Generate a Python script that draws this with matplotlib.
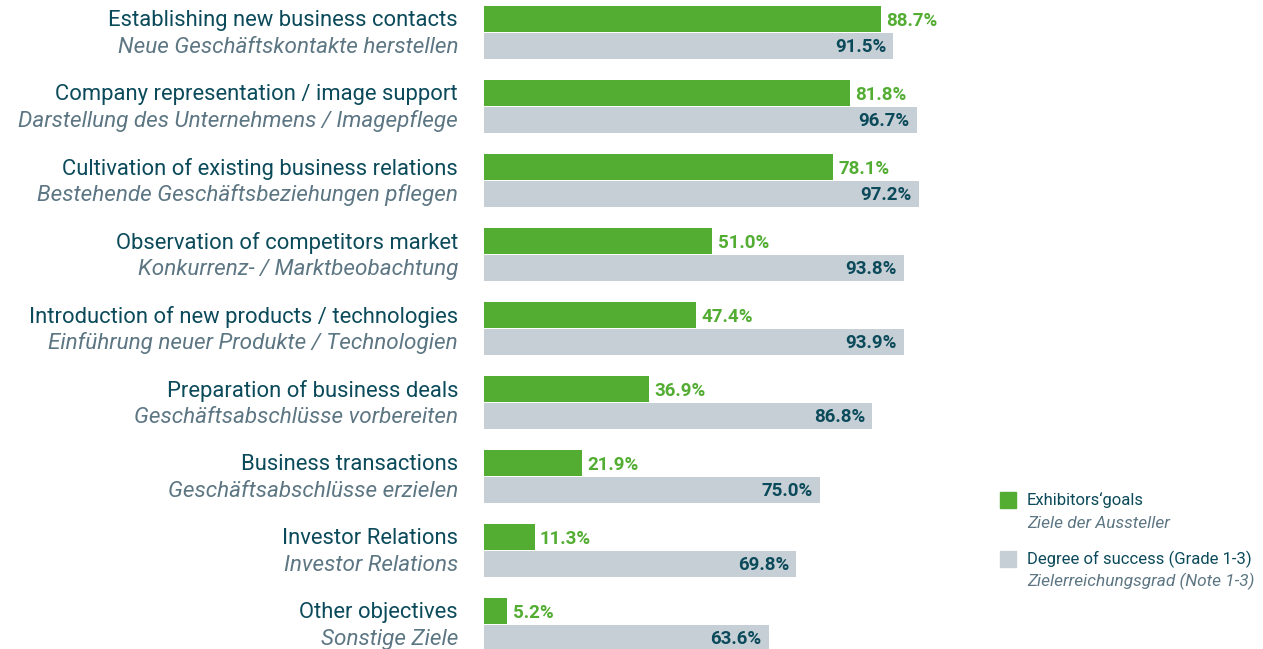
import matplotlib.pyplot as plt
import numpy as np

# Daten
labels_en = ['Establishing new business contacts', 'Company representation / image support',
             'Cultivation of existing business relations', 'Observation of competitors market',
             'Introduction of new products / technologies', 'Preparation of business deals',
             'Business transactions', 'Investor Relations', 'Other objectives']
labels_de = ['Neue Geschäftskontakte herstellen', 'Darstellung des Unternehmens / Imagepflege',
             'Bestehende Geschäftsbeziehungen pflegen', 'Konkurrenz- / Marktbeobachtung',
             'Einführung neuer Produkte / Technologien', 'Geschäftsabschlüsse vorbereiten',
             'Geschäftsabschlüsse erzielen', 'Investor Relations', 'Sonstige Ziele']
goals = [88.7, 81.8, 78.1, 51.0, 47.4, 36.9, 21.9, 11.3, 5.2]
success = [91.5, 96.7, 97.2, 93.8, 93.9, 86.8, 75.0, 69.8, 63.6]

GREEN = '#52ad32'
GREY = '#c7cfd6'
DARK = '#0b4a5a'
MUTED = '#5d7683'
plt.rcParams['font.family'] = ['Roboto', 'DejaVu Sans']

W, H = 1263, 649
fig = plt.figure(figsize=(W / 100, H / 100), dpi=100)
# Achse: 100 % = 447.5 px, beginnt bei x=484
ax = fig.add_axes([484 / W, 0, 447.5 / W, 1])
ax.set_xlim(0, 100)
ax.set_ylim(8.331, -0.439)
ax.axis('off')

y = np.arange(len(goals))
h = 0.352
ax.barh(y - 0.182, goals, height=h, color=GREEN)
ax.barh(y + 0.182, success, height=h, color=GREY)

for i in range(len(goals)):
    ax.text(goals[i] + 1.2, y[i] - 0.16, f'{goals[i]:.1f}%', color=GREEN,
            fontsize=13.5, fontweight='bold', va='center', ha='left')
    ax.text(success[i] - 1.6, y[i] + 0.2, f'{success[i]:.1f}%', color=DARK,
            fontsize=13.5, fontweight='bold', va='center', ha='right')
    ax.text(-5.8, y[i] - 0.16, labels_en[i], color=DARK, fontsize=15.8,
            va='center', ha='right', clip_on=False)
    ax.text(-5.8, y[i] + 0.2, labels_de[i], color=MUTED, fontsize=16.2,
            style='italic', va='center', ha='right', clip_on=False)

# Legende
fig.patches.append(plt.Rectangle((1000 / W, 1 - 508 / H), 16 / W, 16 / H,
                                 color=GREEN, transform=fig.transFigure))
fig.patches.append(plt.Rectangle((1000 / W, 1 - 567 / H), 16 / W, 16 / H,
                                 color=GREY, transform=fig.transFigure))
fig.text(1027 / W, 1 - 500 / H, 'Exhibitors‘goals', color=DARK, fontsize=12, va='center')
fig.text(1027 / W, 1 - 523 / H, 'Ziele der Aussteller', color=MUTED, fontsize=12.4,
         style='italic', va='center')
fig.text(1027 / W, 1 - 559 / H, 'Degree of success (Grade 1-3)', color=DARK, fontsize=12, va='center')
fig.text(1027 / W, 1 - 581 / H, 'Zielerreichungsgrad (Note 1-3)', color=MUTED, fontsize=12.4,
         style='italic', va='center')

fig.savefig('out.png', dpi=100)
